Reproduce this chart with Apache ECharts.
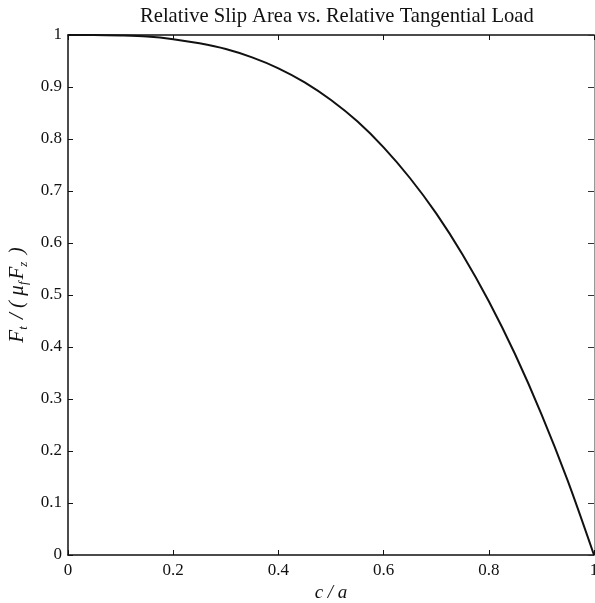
<!DOCTYPE html>
<html>
<head>
<meta charset="utf-8">
<script src="https://cdn.jsdelivr.net/npm/echarts@6/dist/echarts.min.js"></script>
<style>
  html, body { margin: 0; padding: 0; background: #fff; }
  #chart { width: 595px; height: 603px; }
</style>
</head>
<body>
<div id="chart"></div>
<script>
// c / a values
const relSlip = [0, 0.05, 0.1, 0.15, 0.2, 0.25, 0.3, 0.35, 0.4, 0.45, 0.5, 0.55, 0.6, 0.65, 0.7, 0.75, 0.8, 0.85, 0.9, 0.95, 1];
// F_t / (mu_f F_z)
const relLoad = [1, 1, 0.999, 0.997, 0.992, 0.984, 0.973, 0.957, 0.936, 0.909, 0.875, 0.834, 0.784, 0.725, 0.657, 0.578, 0.488, 0.386, 0.271, 0.143, 0];
const xTicks = [0, 0.2, 0.4, 0.6, 0.8, 1];
const yTicks = [0, 0.1, 0.2, 0.3, 0.4, 0.5, 0.6, 0.7, 0.8, 0.9, 1];

const serif = 'Liberation Serif';
const chart = echarts.init(document.getElementById('chart'));

const tickFmt = (v) => {
  const r = Math.round(v * 10) / 10;
  return r === 0 || r === 1 ? String(r) : r.toFixed(1);
};

const option = {
  backgroundColor: '#fff',
  animation: false,
  title: {
    text: 'Relative Slip Area vs. Relative Tangential Load',
    left: 135,
    top: 1,
    textStyle: { fontFamily: serif, fontSize: 20.6, fontWeight: 'normal', color: '#111' }
  },
  grid: { left: 68, right: 1, top: 35, bottom: 48, outerBoundsMode: 'none' },
  xAxis: [
    {
      type: 'value',
      min: 0,
      max: 1,
      interval: 0.2,
      name: 'c / a',
      nameLocation: 'middle',
      nameGap: 25,
      nameTextStyle: { fontFamily: serif, fontSize: 19, fontStyle: 'italic', color: '#111' },
      axisLine: { show: true, onZero: false, lineStyle: { color: '#111', width: 1.5 } },
      axisTick: { show: true, inside: true, length: 5, lineStyle: { color: '#111' } },
      axisLabel: { fontFamily: serif, fontSize: 17, color: '#111', margin: 7, formatter: tickFmt },
      splitLine: { show: false }
    },
    {
      type: 'value',
      position: 'top',
      min: 0,
      max: 1,
      interval: 0.2,
      axisLine: { show: true, onZero: false, lineStyle: { color: '#111', width: 1.5 } },
      axisTick: { show: true, inside: true, length: 5, lineStyle: { color: '#111' } },
      axisLabel: { show: false },
      splitLine: { show: false }
    }
  ],
  yAxis: [
    {
      type: 'value',
      min: 0,
      max: 1,
      interval: 0.1,
      name: '{m|F}{s|t}{m| / ( μ}{s|f}{m|F}{s|z}{m| )}',
      nameLocation: 'middle',
      nameGap: 30,
      nameRotate: 90,
      nameTextStyle: {
        rich: {
          m: { fontFamily: serif, fontSize: 21, fontStyle: 'italic', color: '#111', lineHeight: 24, verticalAlign: 'middle' },
          s: { fontFamily: serif, fontSize: 13, fontStyle: 'italic', color: '#111', lineHeight: 11, verticalAlign: 'bottom', padding: [0, 2, 0, 0] }
        }
      },
      axisLine: { show: true, onZero: false, lineStyle: { color: '#111', width: 1.5 } },
      axisTick: { show: true, inside: true, length: 5, lineStyle: { color: '#111' } },
      axisLabel: { fontFamily: serif, fontSize: 17, color: '#111', margin: 6, formatter: tickFmt },
      splitLine: { show: false }
    },
    {
      type: 'value',
      position: 'right',
      min: 0,
      max: 1,
      interval: 0.1,
      axisLine: { show: true, onZero: false, lineStyle: { color: '#999', width: 1 } },
      axisTick: { show: true, inside: true, length: 6, lineStyle: { color: '#333' } },
      axisLabel: { show: false },
      splitLine: { show: false }
    }
  ],
  series: [
    {
      type: 'line',
      data: relSlip.map((x, i) => [x, relLoad[i]]),
      smooth: 0.3,
      showSymbol: false,
      lineStyle: { color: '#111', width: 2 }
    }
  ]
};

chart.setOption(option);
</script>
</body>
</html>
